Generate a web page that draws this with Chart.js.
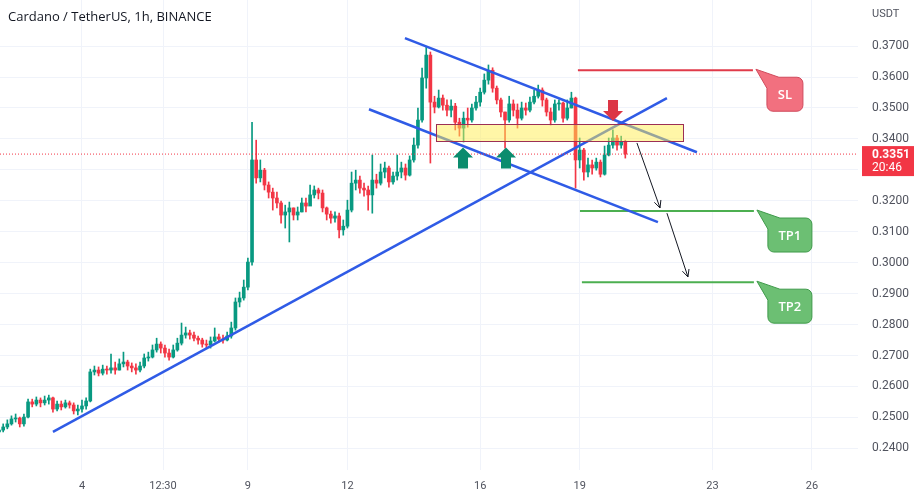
<!DOCTYPE html>
<html>
<head>
<meta charset="utf-8">
<title>Cardano / TetherUS, 1h, BINANCE</title>
<script src="https://cdn.jsdelivr.net/npm/chart.js@4.4.1/dist/chart.umd.min.js"></script>
<style>
  html, body { margin: 0; padding: 0; background: #fff; }
  canvas { display: block; }
</style>
</head>
<body>
<canvas id="adaChart" width="918" height="501"></canvas>
<script>
// candles, grouped as 3h bars
// time axis is in hours counted from the 4th, 00:00
const candleStartHour = -60;
const candleStepHours = 3;
const firstOpen = 0.2453;

const closes = [
  0.2459, 0.2469, 0.2479, 0.2495, 0.2498, 0.2479, 0.2501, 0.2550, 0.2543, 0.2556,
  0.2547, 0.2556, 0.2563, 0.2527, 0.2543, 0.2534, 0.2547, 0.2540, 0.2521, 0.2527,
  0.2537, 0.2553, 0.2647, 0.2653, 0.2643, 0.2656, 0.2653, 0.2660, 0.2653, 0.2673,
  0.2679, 0.2666, 0.2660, 0.2653, 0.2666, 0.2692, 0.2695, 0.2718, 0.2737, 0.2724,
  0.2708, 0.2695, 0.2718, 0.2740, 0.2766, 0.2773, 0.2766, 0.2756, 0.2750, 0.2737,
  0.2734, 0.2747, 0.2760, 0.2753, 0.2750, 0.2763, 0.2789, 0.2873, 0.2886, 0.2921,
  0.3002, 0.3332, 0.3274, 0.3299, 0.3251, 0.3228, 0.3209, 0.3193, 0.3154, 0.3164,
  0.3177, 0.3154, 0.3164, 0.3193, 0.3183, 0.3219, 0.3235, 0.3225, 0.3177, 0.3157,
  0.3144, 0.3151, 0.3106, 0.3118, 0.3170, 0.3257, 0.3267, 0.3241, 0.3235, 0.3219,
  0.3267, 0.3257, 0.3293, 0.3306, 0.3261, 0.3280, 0.3293, 0.3306, 0.3283, 0.3332,
  0.3380, 0.3461, 0.3597, 0.3671, 0.3519, 0.3503, 0.3532, 0.3509, 0.3493, 0.3506,
  0.3454, 0.3435, 0.3467, 0.3461, 0.3500, 0.3519, 0.3551, 0.3590, 0.3622, 0.3564,
  0.3526, 0.3487, 0.3461, 0.3513, 0.3493, 0.3467, 0.3500, 0.3493, 0.3519, 0.3538,
  0.3558, 0.3526, 0.3487, 0.3461, 0.3513, 0.3516, 0.3467, 0.3500, 0.3532, 0.3332,
  0.3364, 0.3293, 0.3316, 0.3306, 0.3325, 0.3286, 0.3348, 0.3380, 0.3403, 0.3380,
  0.3390, 0.3351
];
const highs = [
  0.2472, 0.2479, 0.2492, 0.2505, 0.2511, 0.2501, 0.2511, 0.2559, 0.2559, 0.2566,
  0.2563, 0.2569, 0.2572, 0.2566, 0.2553, 0.2553, 0.2556, 0.2553, 0.2547, 0.2540,
  0.2556, 0.2563, 0.2656, 0.2666, 0.2663, 0.2669, 0.2666, 0.2705, 0.2679, 0.2689,
  0.2711, 0.2685, 0.2676, 0.2673, 0.2679, 0.2705, 0.2711, 0.2734, 0.2756, 0.2744,
  0.2734, 0.2721, 0.2734, 0.2756, 0.2805, 0.2792, 0.2782, 0.2776, 0.2763, 0.2756,
  0.2750, 0.2760, 0.2789, 0.2769, 0.2766, 0.2776, 0.2808, 0.2886, 0.2905, 0.2944,
  0.3015, 0.3454, 0.3396, 0.3332, 0.3305, 0.3261, 0.3241, 0.3228, 0.3199, 0.3186,
  0.3196, 0.3177, 0.3180, 0.3209, 0.3209, 0.3251, 0.3248, 0.3241, 0.3235, 0.3180,
  0.3167, 0.3164, 0.3160, 0.3138, 0.3202, 0.3293, 0.3299, 0.3280, 0.3257, 0.3248,
  0.3348, 0.3286, 0.3319, 0.3325, 0.3312, 0.3293, 0.3348, 0.3325, 0.3319, 0.3345,
  0.3403, 0.3500, 0.3629, 0.3697, 0.3681, 0.3538, 0.3558, 0.3542, 0.3526, 0.3526,
  0.3515, 0.3467, 0.3487, 0.3500, 0.3513, 0.3538, 0.3564, 0.3610, 0.3639, 0.3630,
  0.3571, 0.3532, 0.3487, 0.3538, 0.3526, 0.3513, 0.3519, 0.3516, 0.3535, 0.3558,
  0.3574, 0.3565, 0.3532, 0.3500, 0.3526, 0.3526, 0.3519, 0.3526, 0.3551, 0.3535,
  0.3403, 0.3370, 0.3338, 0.3332, 0.3338, 0.3332, 0.3377, 0.3403, 0.3429, 0.3412,
  0.3409, 0.3396
];
const lows = [
  0.2446, 0.2453, 0.2463, 0.2475, 0.2485, 0.2469, 0.2472, 0.2498, 0.2534, 0.2537,
  0.2534, 0.2540, 0.2543, 0.2517, 0.2521, 0.2524, 0.2530, 0.2530, 0.2511, 0.2508,
  0.2517, 0.2527, 0.2550, 0.2637, 0.2634, 0.2637, 0.2640, 0.2643, 0.2640, 0.2653,
  0.2663, 0.2653, 0.2647, 0.2640, 0.2647, 0.2660, 0.2682, 0.2692, 0.2711, 0.2708,
  0.2695, 0.2685, 0.2692, 0.2714, 0.2734, 0.2756, 0.2753, 0.2747, 0.2737, 0.2727,
  0.2724, 0.2724, 0.2744, 0.2744, 0.2740, 0.2747, 0.2756, 0.2782, 0.2857, 0.2879,
  0.2912, 0.2992, 0.3257, 0.3261, 0.3235, 0.3209, 0.3170, 0.3177, 0.3128, 0.3112,
  0.3067, 0.3138, 0.3138, 0.3164, 0.3164, 0.3186, 0.3209, 0.3206, 0.3164, 0.3138,
  0.3128, 0.3131, 0.3080, 0.3089, 0.3112, 0.3164, 0.3235, 0.3225, 0.3215, 0.3170,
  0.3160, 0.3241, 0.3251, 0.3274, 0.3244, 0.3254, 0.3267, 0.3274, 0.3267, 0.3280,
  0.3325, 0.3370, 0.3454, 0.3564, 0.3322, 0.3484, 0.3500, 0.3493, 0.3474, 0.3471,
  0.3429, 0.3409, 0.3390, 0.3438, 0.3454, 0.3493, 0.3506, 0.3545, 0.3577, 0.3551,
  0.3513, 0.3471, 0.3370, 0.3454, 0.3474, 0.3435, 0.3461, 0.3477, 0.3487, 0.3513,
  0.3532, 0.3506, 0.3474, 0.3445, 0.3454, 0.3493, 0.3454, 0.3461, 0.3500, 0.3241,
  0.3306, 0.3267, 0.3277, 0.3286, 0.3299, 0.3277, 0.3283, 0.3345, 0.3370, 0.3364,
  0.3370, 0.3338
];

// axes
const xTickHours = [0, 58.6, 120, 192, 288, 360, 456, 528];
const xTickLabels = ['4', '12:30', '9', '12', '16', '19', '23', '26'];
const yTickValues = [0.24, 0.25, 0.26, 0.27, 0.28, 0.29, 0.30, 0.31, 0.32, 0.33, 0.34, 0.35, 0.36, 0.37];
const xMin = -59.3, xMax = 561.3;
const yMin = 0.2330, yMax = 0.3849;

// drawings on the chart
const trendStartHours  = [-21.0, 233.6, 207.6];
const trendStartPrices = [0.2453, 0.3726, 0.3496];
const trendEndHours    = [423.1, 444.8, 416.6];
const trendEndPrices   = [0.3532, 0.3357, 0.3131];

const levelNames      = ['SL', 'TP1', 'TP2'];
const levelPrices     = [0.3622, 0.3167, 0.2937];
const levelStartHours = [358.7, 360.2, 361.6];
const levelEndHours   = [485.3, 486.0, 486.0];

const zoneHours  = [256.0, 434.7];
const zonePrices = [0.3393, 0.3448];

const pathFromHours  = [401.4, 423.1];
const pathFromPrices = [0.3387, 0.3160];
const pathToHours    = [418.1, 438.3];
const pathToPrices   = [0.3177, 0.2954];

const bounceHours = [275.6, 306.7];   // green up arrows
const bouncePrice = 0.3372;
const rejectHour = 384.1;             // red down arrow
const rejectPrice = 0.3458;

const barCountdown = '20:46';

const UP = '#089981';
const DOWN = '#f23645';

function hourOf(i) {
  return candleStartHour + i * candleStepHours;
}

const opens = closes.map((c, i) => i === 0 ? firstOpen : closes[i - 1]);
const candleColors = closes.map((c, i) => c >= opens[i] ? UP : DOWN);

const wickData = closes.map((c, i) => ({ x: hourOf(i), y: [lows[i], highs[i]] }));
const bodyData = closes.map((c, i) => ({ x: hourOf(i), y: [opens[i], c] }));

const lastPrice = closes[closes.length - 1];

function lineSet(points, color, width, dash) {
  return {
    type: 'line',
    data: points,
    borderColor: color,
    borderWidth: width,
    borderDash: dash || [],
    pointRadius: 0,
    fill: false,
    tension: 0,
    order: 1
  };
}

const datasets = [
  {
    type: 'bar', label: 'wicks', data: wickData,
    backgroundColor: candleColors, barThickness: 1, grouped: false, order: 20
  },
  {
    type: 'bar', label: 'bodies', data: bodyData,
    backgroundColor: candleColors, barThickness: 3, minBarLength: 1, grouped: false, order: 19
  },
  lineSet([{ x: xMin, y: lastPrice }, { x: xMax, y: lastPrice }], '#f23645', 1, [1, 2])
];
trendStartHours.forEach((h, i) => {
  datasets.push(lineSet([{ x: h, y: trendStartPrices[i] }, { x: trendEndHours[i], y: trendEndPrices[i] }], '#2f5be6', 2.5));
});
levelNames.forEach((name, i) => {
  datasets.push(lineSet([{ x: levelStartHours[i], y: levelPrices[i] }, { x: levelEndHours[i], y: levelPrices[i] }],
    i === 0 ? '#e03a4a' : '#4caf50', 2));
});

function drawArrowLine(ctx, x1, y1, x2, y2) {
  const a = Math.atan2(y2 - y1, x2 - x1);
  const len = 8, spread = 0.45;
  ctx.beginPath();
  ctx.moveTo(x1, y1);
  ctx.lineTo(x2, y2);
  ctx.moveTo(x2 - len * Math.cos(a - spread), y2 - len * Math.sin(a - spread));
  ctx.lineTo(x2, y2);
  ctx.lineTo(x2 - len * Math.cos(a + spread), y2 - len * Math.sin(a + spread));
  ctx.stroke();
}

// dir = -1 points up, 1 points down; tip is the pointed end
function drawFatArrow(ctx, x, tipY, dir, color) {
  const s = -dir;
  ctx.beginPath();
  ctx.moveTo(x, tipY);
  ctx.lineTo(x + 10, tipY + s * 10);
  ctx.lineTo(x + 5, tipY + s * 10);
  ctx.lineTo(x + 5, tipY + s * 21);
  ctx.lineTo(x - 5, tipY + s * 21);
  ctx.lineTo(x - 5, tipY + s * 10);
  ctx.lineTo(x - 10, tipY + s * 10);
  ctx.closePath();
  ctx.fillStyle = color;
  ctx.fill();
}

function drawCallout(ctx, tipX, tipY, text, fill, stroke, w) {
  const bx = tipX + 11, by = tipY + 8, h = 34, r = 6;
  ctx.beginPath();
  ctx.moveTo(tipX, tipY);
  ctx.lineTo(bx + 12, by);
  ctx.lineTo(bx + w - r, by);
  ctx.arcTo(bx + w, by, bx + w, by + r, r);
  ctx.lineTo(bx + w, by + h - r);
  ctx.arcTo(bx + w, by + h, bx + w - r, by + h, r);
  ctx.lineTo(bx + r, by + h);
  ctx.arcTo(bx, by + h, bx, by + h - r, r);
  ctx.lineTo(bx, by + 11);
  ctx.closePath();
  ctx.fillStyle = fill;
  ctx.fill();
  ctx.strokeStyle = stroke;
  ctx.lineWidth = 1;
  ctx.stroke();
  ctx.fillStyle = '#ffffff';
  ctx.font = '600 13px "Open Sans"';
  ctx.textAlign = 'center';
  ctx.textBaseline = 'middle';
  ctx.fillText(text, bx + w / 2, by + h / 2 + 1);
}

const drawingsPlugin = {
  id: 'drawings',
  afterDraw(chart) {
    const { ctx, chartArea, scales } = chart;
    const x = scales.x, y = scales.y;
    ctx.save();

    // yellow zone
    const zx1 = x.getPixelForValue(zoneHours[0]), zx2 = x.getPixelForValue(zoneHours[1]);
    const zy1 = y.getPixelForValue(zonePrices[1]), zy2 = y.getPixelForValue(zonePrices[0]);
    ctx.fillStyle = 'rgba(255, 238, 80, 0.5)';
    ctx.fillRect(zx1, zy1, zx2 - zx1, zy2 - zy1);
    ctx.strokeStyle = '#9c2f55';
    ctx.lineWidth = 1;
    ctx.strokeRect(Math.round(zx1) + 0.5, Math.round(zy1) + 0.5, Math.round(zx2 - zx1), Math.round(zy2 - zy1));

    // projected path
    ctx.strokeStyle = '#131722';
    ctx.lineWidth = 1;
    pathFromHours.forEach((h, i) => {
      drawArrowLine(ctx, x.getPixelForValue(h), y.getPixelForValue(pathFromPrices[i]),
        x.getPixelForValue(pathToHours[i]), y.getPixelForValue(pathToPrices[i]));
    });

    bounceHours.forEach(h => {
      drawFatArrow(ctx, x.getPixelForValue(h), y.getPixelForValue(bouncePrice), -1, '#0b8c6e');
    });
    drawFatArrow(ctx, x.getPixelForValue(rejectHour), y.getPixelForValue(rejectPrice), 1, '#dc3545');

    // SL / TP callouts
    levelNames.forEach((name, i) => {
      const tx = x.getPixelForValue(levelEndHours[i]) + 3;
      const ty = y.getPixelForValue(levelPrices[i]) - 1;
      if (i === 0) drawCallout(ctx, tx, ty, name, '#f2707f', '#d04a5c', 36);
      else drawCallout(ctx, tx, ty, name, '#6cbf73', '#3f9a4a', 44);
    });

    // title
    ctx.fillStyle = '#131722';
    ctx.font = '13px "Open Sans"';
    ctx.textAlign = 'left';
    ctx.textBaseline = 'middle';
    ctx.fillText('Cardano / TetherUS, 1h, BINANCE', 8, 17);

    // currency on the price scale
    ctx.fillStyle = '#50535e';
    ctx.font = '11px Roboto';
    ctx.fillText('USDT', chartArea.right + 14, 14);

    // last price badge
    const py = y.getPixelForValue(lastPrice);
    ctx.fillStyle = '#f23645';
    ctx.fillRect(chartArea.right + 4, py - 8, 52, 30);
    ctx.fillStyle = '#ffffff';
    ctx.font = 'bold 12px Roboto';
    ctx.fillText(lastPrice.toFixed(4), chartArea.right + 14, py + 1);
    ctx.font = '12px Roboto';
    ctx.fillText(barCountdown, chartArea.right + 14, py + 14);

    ctx.restore();
  }
};

new Chart(document.getElementById('adaChart'), {
  type: 'bar',
  data: { datasets: datasets },
  options: {
    responsive: false,
    animation: false,
    events: [],
    layout: { padding: 0 },
    plugins: { legend: { display: false }, tooltip: { enabled: false }, title: { display: false } },
    scales: {
      x: {
        type: 'linear',
        min: xMin,
        max: xMax,
        offset: false,
        border: { display: false },
        grid: { color: '#f0f3fa', drawTicks: false, offset: false },
        afterBuildTicks: scale => { scale.ticks = xTickHours.map(v => ({ value: v })); },
        afterFit: scale => { scale.height = 31; scale.paddingLeft = 0; scale.paddingRight = 0; },
        ticks: {
          autoSkip: false,
          maxRotation: 0,
          padding: 10,
          color: '#50535e',
          font: { family: 'Roboto', size: 11 },
          callback: (v, i) => xTickLabels[i]
        }
      },
      y: {
        type: 'linear',
        position: 'right',
        min: yMin,
        max: yMax,
        border: { display: false },
        grid: { color: '#f0f3fa', drawTicks: false },
        afterBuildTicks: scale => { scale.ticks = yTickValues.map(v => ({ value: v })); },
        afterFit: scale => { scale.width = 60; scale.paddingTop = 0; scale.paddingBottom = 0; },
        ticks: {
          padding: 14,
          color: '#50535e',
          font: { family: 'Roboto', size: 12 },
          callback: v => v.toFixed(4)
        }
      }
    }
  },
  plugins: [drawingsPlugin]
});
</script>
</body>
</html>
